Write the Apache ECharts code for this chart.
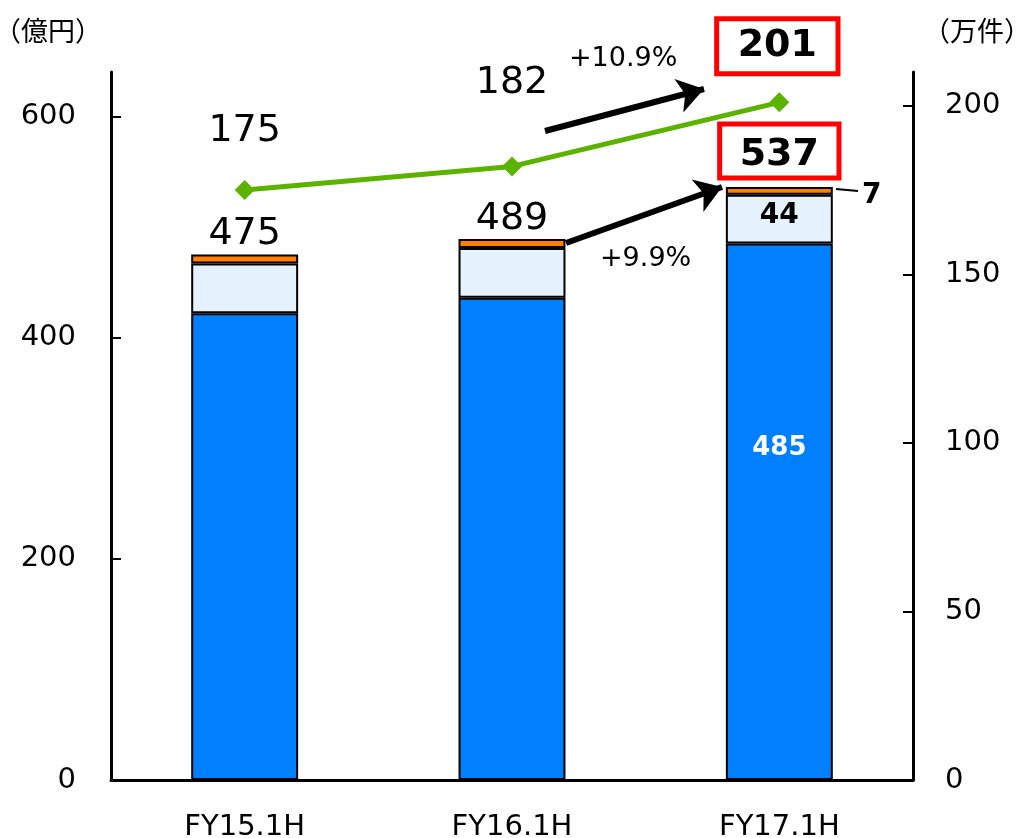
<!DOCTYPE html>
<html>
<head>
<meta charset="utf-8">
<script src="https://cdn.jsdelivr.net/npm/echarts@6/dist/echarts.min.js"></script>
<style>
  html, body { margin: 0; padding: 0; background: #fff; }
  #chart { width: 1020px; height: 838px; }
</style>
</head>
<body>
<div id="chart"></div>
<script>
  // 区分
  const categories = ['FY15.1H', 'FY16.1H', 'FY17.1H'];
  // 億円（積み上げ）
  const mainSales = [422, 436, 485];
  const subSales = [45, 45, 44];
  const otherSales = [8, 8, 7];
  const totalSales = [475, 489, 537];
  // 万件
  const counts = [175, 182, 201];
  const leftTicks = [0, 200, 400, 600];
  const rightTicks = [0, 50, 100, 150, 200];

  const font = 'DejaVu Sans';
  const cjk = 'Noto Sans CJK JP';
  const border = { borderColor: '#000', borderWidth: 2 };
  const redBox = { fontSize: 38, fontWeight: 'bold', borderColor: '#FF0000', borderWidth: 5 };

  const chart = echarts.init(document.getElementById('chart'));

  chart.setOption({
    animation: false,
    grid: { left: 111, right: 107, top: 72, bottom: 58, containLabel: false, outerBoundsMode: 'none' },
    xAxis: {
      type: 'category',
      data: categories,
      axisLine: { lineStyle: { color: '#000', width: 3 } },
      axisTick: { inside: true, length: 10, lineStyle: { color: '#000', width: 2 } },
      axisLabel: { color: '#000', fontSize: 29, fontFamily: font, margin: 33 }
    },
    yAxis: [
      {
        type: 'value',
        min: 0,
        max: 640,
        name: '（億円）',
        nameLocation: 'end',
        nameGap: 28,
        nameTextStyle: { color: '#000', fontSize: 27, fontFamily: cjk, align: 'right', padding: [0, 9, 0, 0] },
        axisLine: { show: true, lineStyle: { color: '#000', width: 3 } },
        axisTick: { show: true, inside: true, length: 10, customValues: leftTicks, lineStyle: { color: '#000', width: 2 } },
        axisLabel: { color: '#000', fontSize: 29, fontFamily: font, margin: 35, customValues: leftTicks },
        splitLine: { show: false }
      },
      {
        type: 'value',
        min: 0,
        max: 210,
        name: '（万件）',
        nameLocation: 'end',
        nameGap: 28,
        nameTextStyle: { color: '#000', fontSize: 27, fontFamily: cjk, align: 'left', padding: [0, 0, 0, 10] },
        axisLine: { show: true, lineStyle: { color: '#000', width: 3 } },
        axisTick: { show: true, inside: true, length: 10, customValues: rightTicks, lineStyle: { color: '#000', width: 2 } },
        axisLabel: { color: '#000', fontSize: 29, fontFamily: font, margin: 32, customValues: rightTicks },
        splitLine: { show: false }
      }
    ],
    series: [
      {
        name: 'main',
        type: 'bar',
        stack: 'sales',
        barWidth: '40%',
        itemStyle: Object.assign({ color: '#0080FF' }, border),
        data: mainSales.map((v, i) => i === 2 ? {
          value: v,
          label: {
            show: true, position: 'inside', offset: [0, -63],
            color: '#fff', fontSize: 26, fontWeight: 'bold', fontFamily: font
          }
        } : v)
      },
      {
        name: 'sub',
        type: 'bar',
        stack: 'sales',
        itemStyle: Object.assign({ color: '#E6F1FE' }, border),
        data: subSales.map((v, i) => i === 2 ? {
          value: v,
          label: {
            show: true, position: 'inside', offset: [0, -3],
            color: '#000', fontSize: 28, fontWeight: 'bold', fontFamily: font
          }
        } : v)
      },
      {
        name: 'other',
        type: 'bar',
        stack: 'sales',
        itemStyle: Object.assign({ color: '#FF8000' }, border),
        label: {
          show: true,
          position: 'top',
          distance: 1,
          color: '#000',
          fontSize: 38,
          fontFamily: font,
          formatter: p => totalSales[p.dataIndex]
        },
        data: otherSales.map((v, i) => i === 2 ? {
          value: v,
          label: Object.assign({ distance: 9, padding: [12, 20, 4, 20] }, redBox)
        } : v),
        markLine: {
          silent: true,
          symbol: 'none',
          lineStyle: { color: '#000', width: 2, type: 'solid' },
          label: { show: false },
          data: [[{ x: 836, y: 189 }, { x: 858, y: 191 }]]
        }
      },
      {
        name: 'count',
        type: 'line',
        yAxisIndex: 1,
        symbol: 'diamond',
        symbolSize: 20,
        lineStyle: { color: '#5BB300', width: 5 },
        itemStyle: { color: '#5BB300' },
        label: {
          show: true,
          position: 'inside',
          color: '#000',
          fontSize: 38,
          fontFamily: font
        },
        data: counts.map((v, i) => {
          const offs = [[0, -59], [0, -83], [-2, -56]];
          const item = { value: v, label: { offset: offs[i] } };
          if (i === 2) {
            Object.assign(item.label, { padding: [11, 21, 6, 21] }, redBox);
          }
          return item;
        }),
        markLine: {
          silent: true,
          symbol: ['none', 'arrow'],
          symbolSize: 26,
          lineStyle: { color: '#000', width: 6, type: 'solid' },
          label: { show: false },
          data: [
            [{ x: 545, y: 131 }, { x: 704, y: 89 }],
            [{ x: 566, y: 243 }, { x: 722, y: 187 }]
          ]
        }
      }
    ],
    graphic: [
      {
        type: 'text', left: 569, top: 45,
        style: { text: '+10.9%', fill: '#000', fontSize: 27, fontFamily: font }
      },
      {
        type: 'text', left: 600, top: 245,
        style: { text: '+9.9%', fill: '#000', fontSize: 27, fontFamily: font }
      },
      {
        type: 'text', left: 862, top: 182,
        style: { text: String(otherSales[2]), fill: '#000', fontSize: 28, fontWeight: 'bold', fontFamily: font }
      }
    ]
  });
</script>
</body>
</html>
